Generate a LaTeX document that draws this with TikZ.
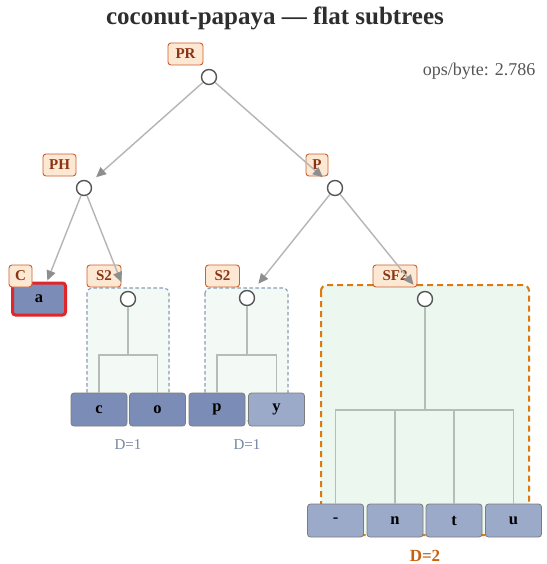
\documentclass[tikz,border=0pt]{standalone}
\usepackage{fontspec}
\setmainfont{Liberation Serif}
\usetikzlibrary{arrows.meta}

\definecolor{titlecol}{HTML}{2E2E2E}
\definecolor{metacol}{HTML}{555555}
\definecolor{tagline}{HTML}{CF5F2C}
\definecolor{tagfill}{HTML}{FDE8D3}
\definecolor{tagtext}{HTML}{8A3413}
\definecolor{junline}{HTML}{555555}
\definecolor{edgecol}{HTML}{B5B5B5}
\definecolor{tipcol}{HTML}{8E8E8E}
\definecolor{leafline}{HTML}{7C7C7C}
\definecolor{leafdark}{HTML}{7B8DB6}
\definecolor{leaflight}{HTML}{9CAACA}
\definecolor{hotline}{HTML}{E0262B}
\definecolor{brackcol}{HTML}{B3BFB6}
\definecolor{flatline}{HTML}{8C9BB1}
\definecolor{flatfill}{HTML}{F3FAF6}
\definecolor{wideline}{HTML}{DA7A10}
\definecolor{widefill}{HTML}{ECF8EF}
\definecolor{depthcol}{HTML}{7484A6}
\definecolor{deepcol}{HTML}{C8620F}

\begin{document}
\begin{tikzpicture}[x=1pt,y=-1pt,
  tag/.style={draw=tagline,fill=tagfill,text=tagtext,line width=0.9pt,
    rounded corners=3pt,minimum height=22pt,inner xsep=3pt,inner ysep=0pt,
    font=\bfseries\fontsize{15}{17}\selectfont},
  junction/.style={circle,draw=junline,fill=white,line width=1.4pt,
    minimum size=15pt,inner sep=0pt},
  leaf/.style={draw=leafline,line width=0.8pt,rounded corners=3pt,
    minimum width=56pt,minimum height=33pt,inner sep=0pt,
    font=\bfseries\fontsize{16.5}{18}\selectfont},
  dark/.style={leaf,fill=leafdark},
  light/.style={leaf,fill=leaflight},
  edge/.style={draw=edgecol,line width=1.4pt,shorten >=8pt,
    -{Triangle[length=10pt,width=9pt,color=tipcol]}},
  bracket/.style={draw=brackcol,line width=1.5pt},
  flatgroup/.style={draw=flatline,fill=flatfill,line width=1.1pt,
    dash pattern=on 3.5pt off 2.5pt,rounded corners=5pt},
  widegroup/.style={draw=wideline,fill=widefill,line width=2pt,
    dash pattern=on 6pt off 4pt,rounded corners=6pt},
  depth/.style={text=depthcol,font=\fontsize{15}{17}\selectfont},
  deep/.style={text=deepcol,font=\bfseries\fontsize{17}{19}\selectfont}]

\useasboundingbox[fill=white] (0,0) rectangle (546,564);

% heading and metric
\node[text=titlecol,font=\bfseries\fontsize{25}{29}\selectfont] (title) at (275,18) {coconut-papaya — flat subtrees};
\node[text=metacol,font=\fontsize{18}{21}\selectfont,anchor=east] (metric) at (539,71) {ops/byte: 2.786};

% flattened subtree regions
\draw[flatgroup] (87,288) rectangle (169,421);
\draw[flatgroup] (205,288) rectangle (288,421);
\draw[widegroup] (321,285) rectangle (529,535);

% internal junctions
\node[junction] (pr)  at (209,77) {};
\node[junction] (ph)  at (84,188) {};
\node[junction] (p)   at (335,188) {};
\node[junction] (s2a) at (128,299) {};
\node[junction] (s2b) at (247,298) {};
\node[junction] (sf2) at (425,299) {};

% leaves
\node[dark,draw=hotline,line width=3pt,minimum width=53pt,minimum height=32pt] (la) at (39,299) {a};
\node[dark]  (lc) at (99,409.5) {c};
\node[dark]  (lo) at (157.5,409.5) {o};
\node[dark]  (lp) at (217,409.5) {p};
\node[light] (ly) at (276.5,409.5) {y};
\node[light] (ldash) at (335.5,520.5) {-};
\node[light] (ln) at (395,520.5) {n};
\node[light] (lt) at (454,520.5) {t};
\node[light] (lu) at (513.5,520.5) {u};

% fan-out brackets inside the flat regions
\draw[bracket] (s2a) -- (s2a |- 0,355);
\draw[bracket] (lc.north) -- (lc |- 0,355) -- (lo |- 0,355) -- (lo.north);
\draw[bracket] (s2b) -- (s2b |- 0,355);
\draw[bracket] (lp.north) -- (lp |- 0,355) -- (ly |- 0,355) -- (ly.north);
\draw[bracket] (sf2) -- (sf2 |- 0,410);
\draw[bracket] (ldash.north) -- (ldash |- 0,410) -- (lu |- 0,410) -- (lu.north);
\draw[bracket] (ln.north) -- (ln |- 0,410);
\draw[bracket] (lt.north) -- (lt |- 0,410);

% rule tags
\node[tag,minimum width=35pt] (tpr)  at (185.5,54) {PR};
\node[tag,minimum width=33pt] (tph)  at (59.5,165) {PH};
\node[tag,minimum width=22pt] (tp)   at (317,165) {P};
\node[tag,minimum width=23pt] (tc)   at (20.5,276) {C};
\node[tag,minimum width=34pt] (ts2a) at (104,276) {S2};
\node[tag,minimum width=34pt] (ts2b) at (222.5,276) {S2};
\node[tag,minimum width=44pt] (tsf2) at (395,276) {SF2};

% depth annotations
\node[depth] (da) at (128,445) {D=1};
\node[depth] (db) at (247,445) {D=1};
\node[deep]  (dc) at (425,556) {D=2};

% tree edges
\draw[edge] (pr) -- (ph);
\draw[edge] (pr) -- (p);
\draw[edge,shorten >=1pt] (ph) -- ([xshift=8pt]la.north);
\draw[edge,shorten >=10pt] (ph) -- (s2a);
\draw[edge,shorten >=10pt] (p) -- (s2b);
\draw[edge,shorten >=10pt] (p) -- (sf2);
\end{tikzpicture}
\end{document}
